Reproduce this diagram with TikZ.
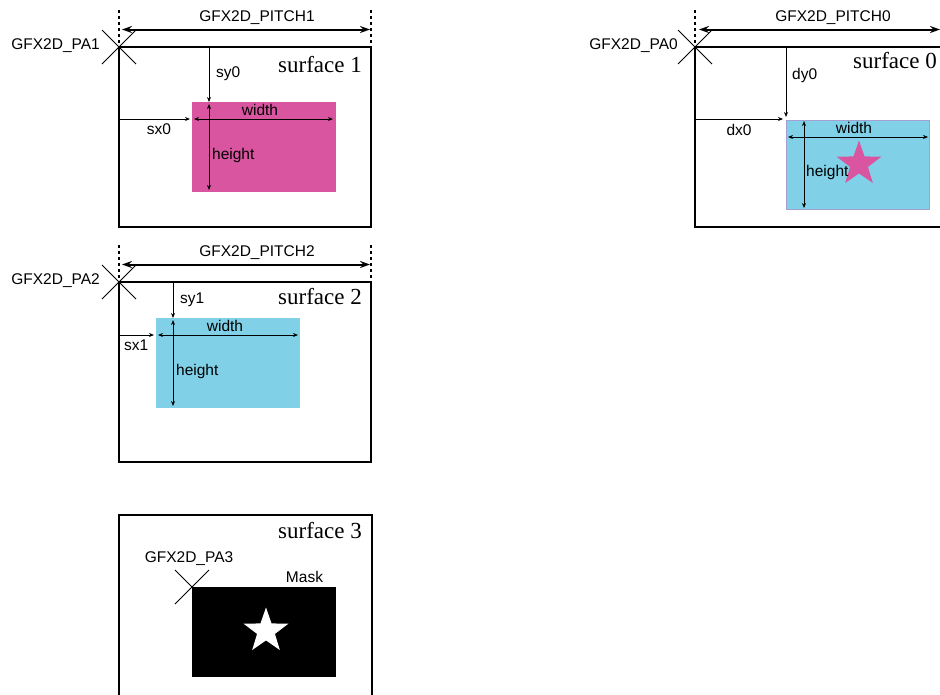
\documentclass[tikz,border=0pt]{standalone}
\usepackage{fontspec}
\setmainfont{Liberation Serif}
\setsansfont{Liberation Sans}
\usetikzlibrary{
    positioning,                      % placement relatif
    arrows.meta,                      % pointes Stealth
    shapes.geometric,                 % star
    calc                              % ($(a)+(1,0)$)
}
\definecolor{region_pink}{RGB}{217,85,160}
\definecolor{region_cyan}{RGB}{128,209,232}
\definecolor{region_edge}{RGB}{165,160,210}
\tikzset{
    surface/.style={
        rectangle, draw, line width=2pt,
        inner sep=0pt, outer sep=0pt, anchor=north west
    },
    region/.style={
        rectangle, inner sep=0pt, outer sep=0pt, anchor=north west
    },
    starmark/.style={
        star, star points=5, star point ratio=2.5,
        minimum size=47pt, inner sep=0pt
    },
    dim/.style={
        -{Stealth[length=5pt, width=4pt]}, line width=1pt
    },
    dimboth/.style={
        {Stealth[length=5pt, width=4pt]}-{Stealth[length=5pt, width=4pt]}, line width=1pt
    },
    pitch/.style={
        {Stealth[length=10pt, width=7pt]}-{Stealth[length=10pt, width=7pt]}, line width=2pt
    },
    guide/.style={
        line width=2pt, dash pattern=on 3pt off 3pt
    },
    cross/.style={
        line width=1pt
    },
    dimlabel/.style={
        font=\sffamily\fontsize{15.5}{18}\selectfont, inner sep=0pt
    },
    surftitle/.style={
        font=\fontsize{23}{26}\selectfont, inner sep=0pt, anchor=base east
    }
}

\begin{document}
\begin{tikzpicture}[x=1pt, y=-1pt]
    \path[use as bounding box, clip] (0,0) rectangle (940,694);

    % --- Surfaces ---
    \node[surface, minimum width=252pt, minimum height=180pt] (s1) at (119,47)  {};
    \node[surface, minimum width=265pt, minimum height=180pt] (s0) at (695,47)  {};
    \node[surface, minimum width=252pt, minimum height=180pt] (s2) at (119,282) {};
    \node[surface, minimum width=253pt, minimum height=200pt] (s3) at (119,515) {};
    \coordinate (pa3) at (192,587);

    % --- Croix des adresses de base ---
    \foreach \pa in {s1.north west, s0.north west, s2.north west, pa3} {
        \draw[cross] ($(\pa)+(-17,-17)$) -- ($(\pa)+(17,17)$);
        \draw[cross] ($(\pa)+(-17,17)$) -- ($(\pa)+(17,-17)$);
    }

    % --- Regions ---
    \node[region, fill=region_pink, minimum width=144pt, minimum height=90pt] (r1) at (192,102) {};
    \node[region, fill=region_cyan, draw=region_edge, line width=0.6pt,
          minimum width=143pt, minimum height=89pt] (r0) at (786,120) {};
    \node[region, fill=region_cyan, minimum width=144pt, minimum height=90pt] (r2) at (156,318) {};
    \node[region, fill=black, minimum width=144pt, minimum height=90pt] (r3) at (pa3) {};
    \node[starmark, fill=region_pink] (star0) at (859,164) {};
    \node[starmark, fill=white]       (star3) at (266,631) {};

    % --- Titres ---
    \node[surftitle] (t1) at (362,72.5) {surface 1};
    \node[surftitle] (t0) at (937,68.5) {surface 0};
    \node[surftitle] (t2) at (362,304)  {surface 2};
    \node[surftitle] (t3) at (362,538)  {surface 3};

    % --- Pitch ---
    \foreach \corner in {s1.north west, s1.north east, s0.north west, s2.north west, s2.north east}
        \draw[guide] ($(\corner)+(0,-37)$) -- ($(\corner)+(0,-2)$);

    \draw[pitch] ($(s1.north west)+(3,-17.5)$) -- ($(s1.north east)+(-1,-17.5)$);
    \draw[pitch] ($(s0.north west)+(4,-17.5)$) -- ($(s0.north west)+(245,-17.5)$);
    \draw[pitch] ($(s2.north west)+(3,-17.5)$) -- ($(s2.north east)+(-1,-17.5)$);

    \node[dimlabel, anchor=base] (pitch1) at (257,21)  {GFX2D\_PITCH1};
    \node[dimlabel, anchor=base] (pitch0) at (833,21)  {GFX2D\_PITCH0};
    \node[dimlabel, anchor=base] (pitch2) at (257,256) {GFX2D\_PITCH2};

    \node[dimlabel, anchor=base east] (lpa1) at (100,49)  {GFX2D\_PA1};
    \node[dimlabel, anchor=base east] (lpa0) at (678,49)  {GFX2D\_PA0};
    \node[dimlabel, anchor=base east] (lpa2) at (100,284) {GFX2D\_PA2};
    \node[dimlabel, anchor=base]      (lpa3) at (189,562) {GFX2D\_PA3};
    \node[dimlabel, anchor=base]      (mask) at (304.5,582) {Mask};

    % --- Surface 1 ---
    \coordinate (sy0) at (209,102);
    \coordinate (sx0) at (190,119);
    \draw[dim] (s1.north -| sy0) -- (sy0);
    \draw[dim] (s1.west |- sx0) -- (sx0);
    \draw[dimboth] ($(r1.west |- sx0)+(2,0)$) -- ($(r1.east |- sx0)+(-3,0)$);
    \draw[dimboth] ($(r1.north -| sy0)+(0,2)$) -- ($(r1.south -| sy0)+(0,-2)$);
    \node[dimlabel, anchor=base west] at (216,77.5) {sy0};
    \node[dimlabel, anchor=base]      at (159,134)  {sx0};
    \node[dimlabel, anchor=base]      at (260,115.5) {width};
    \node[dimlabel, anchor=base west] at (212,159)  {height};

    % --- Surface 0 ---
    \coordinate (dy0) at (786,117);
    \coordinate (dx0) at (783,119);
    \draw[dim] (s0.north -| dy0) -- (dy0);
    \draw[dim] (s0.west |- dx0) -- (dx0);
    \draw[dimboth] ($(r0.north west)+(2,17)$) -- ($(r0.north east)+(-1,17)$);
    \draw[dimboth] ($(r0.north west)+(18,1)$) -- ($(r0.south west)+(18,-1)$);
    \node[dimlabel, anchor=base west] at (792,79.5) {dy0};
    \node[dimlabel, anchor=base]      at (739,135)  {dx0};
    \node[dimlabel, anchor=base]      at (854,133)  {width};
    \node[dimlabel, anchor=base west] at (806,176.5) {height};

    % --- Surface 2 ---
    \coordinate (sy1) at (173,318);
    \coordinate (sx1) at (154,335);
    \draw[dim] (s2.north -| sy1) -- (sy1);
    \draw[dim] (s2.west |- sx1) -- (sx1);
    \draw[dimboth] ($(r2.west |- sx1)+(2,0)$) -- ($(r2.east |- sx1)+(-2,0)$);
    \draw[dimboth] ($(r2.north -| sy1)+(0,2)$) -- ($(r2.south -| sy1)+(0,-2)$);
    \node[dimlabel, anchor=base west] at (180,303.5) {sy1};
    \node[dimlabel, anchor=base west] at (124,350.5) {sx1};
    \node[dimlabel, anchor=base]      at (225,331)   {width};
    \node[dimlabel, anchor=base west] at (176,375)   {height};

\end{tikzpicture}
\end{document}
